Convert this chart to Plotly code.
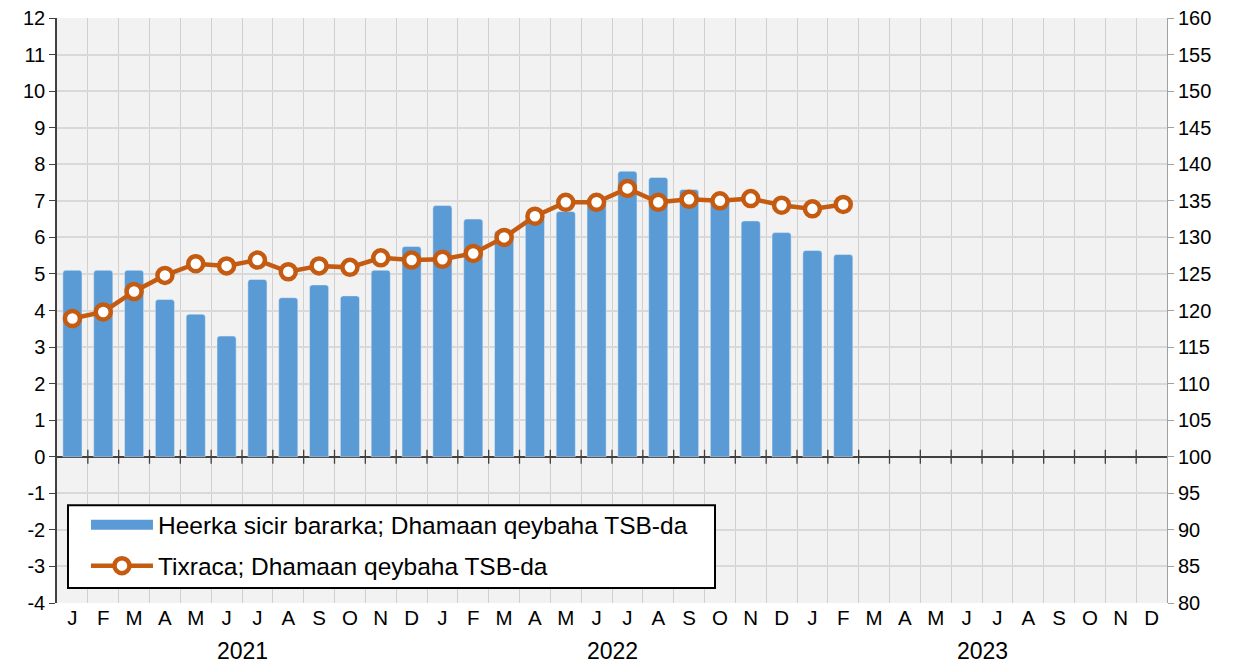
import plotly.graph_objects as go

# Data
months = ["J", "F", "M", "A", "M", "J", "J", "A", "S", "O", "N", "D"] * 3
years = ["2021", "2022", "2023"]

inflation = [5.1, 5.1, 5.1, 4.3, 3.9, 3.3, 4.85, 4.35, 4.7, 4.4, 5.1, 5.75,
             6.87, 6.5, 6.18, 6.55, 6.71, 7.0, 7.81, 7.64, 7.31, 7.1, 6.45, 6.13,
             5.64, 5.53]
index = [118.9, 119.8, 122.6, 124.8, 126.4, 126.1, 126.9, 125.3, 126.1, 125.9, 127.2, 126.9,
         127.0, 127.8, 130.0, 132.9, 134.8, 134.8, 136.7, 134.8, 135.2, 135.0, 135.3, 134.4,
         133.9, 134.5]

left_ticks = list(range(-4, 13))
right_ticks = list(range(80, 161, 5))

name_bar = "Heerka sicir bararka; Dhamaan qeybaha TSB-da"
name_line = "Tixraca; Dhamaan qeybaha TSB-da"

bar_color = "#5b9bd5"
line_color = "#c55a11"

n = len(months)
x_all = list(range(n))

fig = go.Figure()
fig.add_trace(go.Bar(
    x=x_all[:len(inflation)], y=inflation,
    name=name_bar, showlegend=False,
    marker=dict(color=bar_color, cornerradius=3),
    width=0.62,
))
# legend proxy so the bar entry shows a wide block like the original
fig.add_trace(go.Scatter(
    x=[None], y=[None], name=name_bar, mode="lines",
    legendgroup="bar",
    line=dict(color=bar_color, width=20),
))
fig.add_trace(go.Scatter(
    x=x_all[:len(index)], y=index,
    name=name_line, yaxis="y2", legendgroup="line",
    mode="lines+markers",
    line=dict(color=line_color, width=4.5),
    marker=dict(symbol="circle", size=15, color="white",
                line=dict(color=line_color, width=4.5)),
))
# small tick marks on the zero line at category boundaries
fig.add_trace(go.Scatter(
    x=[i - 0.5 for i in range(1, n)], y=[0] * (n - 1),
    mode="markers", showlegend=False, hoverinfo="skip",
    marker=dict(symbol="line-ns", size=10, line=dict(color="#404040", width=1.3)),
))

for k, yr in enumerate(years):
    fig.add_annotation(x=k * 12 + 5.5, y=-0.082, xref="x", yref="paper",
                       text=yr, showarrow=False, yanchor="middle",
                       font=dict(size=23, color="black"))

# legend frame (drawn as a box so the entries can sit further in)
fig.add_shape(type="rect", xref="paper", yref="paper",
              x0=0.0099, x1=0.5928, y0=0.0256, y1=0.167,
              fillcolor="white", line=dict(color="black", width=2),
              layer="above")

# the page body adds an 8px offset, so the figure is a bit smaller than the window
fig.update_layout(
    width=1228, height=656,
    margin=dict(l=49, r=69, t=10, b=61),
    paper_bgcolor="white",
    plot_bgcolor="#f2f2f2",
    font=dict(family="Liberation Sans, Arial", size=20, color="black"),
    showlegend=True,
    legend=dict(x=0.0261, y=0.172, xanchor="left", yanchor="top",
                bgcolor="rgba(0,0,0,0)", borderwidth=0,
                font=dict(size=24.5), tracegroupgap=6,
                itemwidth=62),
    xaxis=dict(
        range=[-0.5, n - 0.5],
        tickvals=x_all, ticktext=months,
        showgrid=False, ticks="",
        minor=dict(tick0=-0.5, dtick=1, showgrid=True,
                   gridcolor="#d0d0d0", gridwidth=1),
        showline=False, zeroline=False,
        tickfont=dict(size=20.5), automargin=False,
    ),
    yaxis=dict(
        range=[-4, 12], tickvals=left_ticks,
        ticktext=[str(v) for v in left_ticks],
        showgrid=True, gridcolor="#d9d9d9", gridwidth=1.5,
        zeroline=True, zerolinecolor="#404040", zerolinewidth=1.5,
        showline=True, linecolor="#404040", linewidth=1.5,
        ticks="outside", ticklen=6, tickcolor="#404040",
        tickfont=dict(size=20), automargin=False,
        ticklabeloverflow="allow",
    ),
    yaxis2=dict(
        range=[80, 160], tickvals=right_ticks,
        ticktext=[str(v) for v in right_ticks],
        overlaying="y", side="right",
        showgrid=False, zeroline=False,
        showline=True, linecolor="#a0a0a0", linewidth=1,
        ticks="outside", ticklen=6, tickcolor="#a0a0a0",
        tickfont=dict(size=20), automargin=False,
        ticklabeloverflow="allow",
    ),
)

fig.write_html("out.html")
